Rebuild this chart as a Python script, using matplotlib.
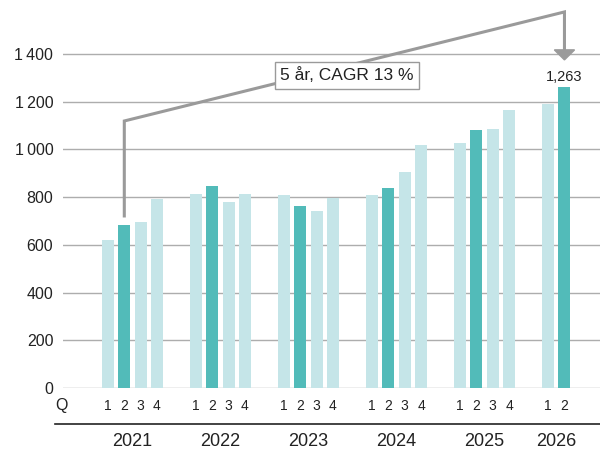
import matplotlib

matplotlib.use("Agg")
import matplotlib.pyplot as plt
from matplotlib.patches import Polygon

plt.rcParams["font.family"] = ["Liberation Sans", "DejaVu Sans"]

years = ["2021", "2022", "2023", "2024", "2025", "2026"]
quarters = ["1", "2", "3", "4"]
values = [
    [622, 681, 694, 790],
    [815, 845, 778, 811],
    [807, 761, 740, 796],
    [808, 838, 905, 1018],
    [1026, 1081, 1085, 1165],
    [1192, 1263],
]
y_ticks = [0, 200, 400, 600, 800, 1000, 1200, 1400]
y_tick_labels = ["0", "200", "400", "600", "800", "1\u2009000", "1\u2009200", "1\u2009400"]
cagr_label = "5 år, CAGR 13 %"
last_label = "1,263"

LIGHT = "#c5e5e8"
DARK = "#52bbb9"
GRID = "#adadad"
ARROW = "#9a9a9a"
TEXT = "#222222"

YEAR_STEP = 5.4
BAR_W = 0.74

fig = plt.figure(figsize=(6, 4.5), dpi=100)
ax = fig.add_axes([63 / 600, 62 / 450, 537 / 600, 388 / 450])
ax.set_xlim(-2.76, 30.18)
ax.set_ylim(0, 1626)
for side in ax.spines.values():
    side.set_visible(False)

for t in y_ticks:
    ax.axhline(t, color=GRID, lw=1.0, zorder=1)
ax.set_yticks(y_ticks)
ax.set_yticklabels(y_tick_labels, fontsize=11.5, color=TEXT)
ax.tick_params(axis="y", length=0, pad=7)
ax.set_xticks([])

# bars, Q2 of every year in the darker shade
positions = []
for yi, row in enumerate(values):
    xs = [yi * YEAR_STEP + qi for qi in range(len(row))]
    positions.append(xs)
    colors = [DARK if qi == 1 else LIGHT for qi in range(len(row))]
    ax.bar(xs, row, width=BAR_W, color=colors, zorder=2)
    for qi, x in enumerate(xs):
        ax.text(x, -75, quarters[qi], ha="center", va="center", fontsize=10,
                color=TEXT, clip_on=False)
    ax.text(sum(xs) / len(xs), -226, years[yi], ha="center", va="center",
            fontsize=13, color=TEXT, clip_on=False)

ax.text(-3.25, -75, "Q", ha="left", va="center", fontsize=11.5, color=TEXT, clip_on=False)
ax.plot([-3.25, 30.18], [-151, -151], color=TEXT, lw=1.2, clip_on=False)

# CAGR bracket from 2021 Q2 to 2026 Q2
x0 = positions[0][1]
x1 = positions[-1][1]
top_start, top_end = 1119, 1576
ax.plot([x0, x0, x1, x1], [721, top_start, top_end, 1417], color=ARROW, lw=2.2,
        solid_joinstyle="miter", clip_on=False, zorder=3)
ax.add_patch(Polygon([[x1 - 0.62, 1417], [x1 + 0.62, 1417], [x1, 1375]],
                     closed=True, color=ARROW, zorder=3))
ax.text(x0 + (x1 - x0) * 0.506, 1310, cagr_label, ha="center", va="center",
        fontsize=12.5, color=TEXT, zorder=4,
        bbox=dict(boxstyle="square,pad=0.3", fc="white", ec=ARROW, lw=1.0))
ax.text(x1, 1305, last_label, ha="center", va="center", fontsize=10.5, color=TEXT)

fig.savefig("out.png", dpi=100)
